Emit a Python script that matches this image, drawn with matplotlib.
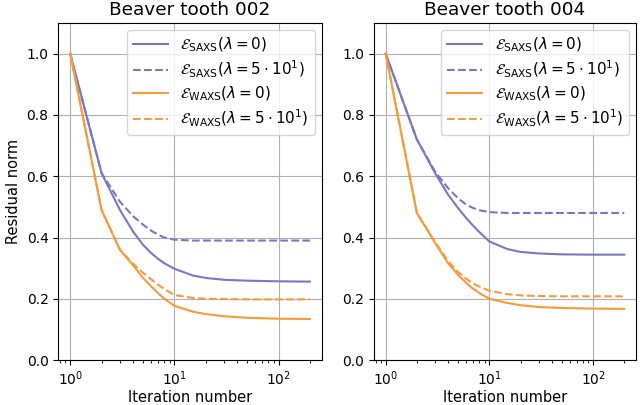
import matplotlib
matplotlib.use('Agg')
import matplotlib.pyplot as plt

iters = [1, 2, 3, 4, 5, 6, 7, 8, 10, 15, 20, 30, 50, 100, 200]

# Beaver tooth 002
saxs_002 = [1.0, 0.61, 0.49, 0.42, 0.376, 0.349, 0.33, 0.316, 0.298, 0.276, 0.268, 0.262, 0.259, 0.257, 0.256]
saxs_reg_002 = [1.0, 0.61, 0.517, 0.47, 0.442, 0.422, 0.409, 0.40, 0.393, 0.39, 0.39, 0.39, 0.39, 0.39, 0.39]
waxs_002 = [1.0, 0.49, 0.36, 0.31, 0.268, 0.24, 0.218, 0.2, 0.177, 0.158, 0.15, 0.143, 0.138, 0.135, 0.134]
waxs_reg_002 = [1.0, 0.49, 0.36, 0.315, 0.285, 0.263, 0.245, 0.232, 0.212, 0.203, 0.2, 0.199, 0.198, 0.198, 0.198]

# Beaver tooth 004
saxs_004 = [1.0, 0.72, 0.61, 0.54, 0.496, 0.463, 0.438, 0.418, 0.387, 0.362, 0.353, 0.348, 0.345, 0.344, 0.344]
saxs_reg_004 = [1.0, 0.72, 0.615, 0.561, 0.528, 0.507, 0.496, 0.489, 0.483, 0.48, 0.48, 0.48, 0.48, 0.48, 0.48]
waxs_004 = [1.0, 0.48, 0.382, 0.316, 0.278, 0.251, 0.232, 0.219, 0.2, 0.186, 0.179, 0.173, 0.17, 0.168, 0.167]
waxs_reg_004 = [1.0, 0.48, 0.385, 0.322, 0.287, 0.265, 0.25, 0.24, 0.226, 0.215, 0.211, 0.209, 0.208, 0.208, 0.208]

titles = ['Beaver tooth 002', 'Beaver tooth 004']
labels = [r'$\mathcal{E}_{\mathrm{SAXS}}(\lambda=0)$',
          r'$\mathcal{E}_{\mathrm{SAXS}}(\lambda=5\cdot10^1)$',
          r'$\mathcal{E}_{\mathrm{WAXS}}(\lambda=0)$',
          r'$\mathcal{E}_{\mathrm{WAXS}}(\lambda=5\cdot10^1)$']

purple = '#7777c6'
orange = '#f99a3a'

fig = plt.figure(figsize=(6.4, 4.05), dpi=100)
ax1 = fig.add_axes([0.091, 0.111, 0.412, 0.832])
ax2 = fig.add_axes([0.584, 0.111, 0.410, 0.832])

data = [(saxs_002, saxs_reg_002, waxs_002, waxs_reg_002),
        (saxs_004, saxs_reg_004, waxs_004, waxs_reg_004)]

for ax, title, (s, sr, w, wr) in zip([ax1, ax2], titles, data):
    ax.plot(iters, s, color=purple, lw=1.5, label=labels[0])
    ax.plot(iters, sr, color=purple, lw=1.5, ls='--', label=labels[1])
    ax.plot(iters, w, color=orange, lw=1.5, label=labels[2])
    ax.plot(iters, wr, color=orange, lw=1.5, ls='--', label=labels[3])
    ax.set_xscale('log')
    ax.set_ylim(0, 1.1)
    ax.set_yticks([0.0, 0.2, 0.4, 0.6, 0.8, 1.0])
    ax.grid(True, which='major')
    ax.set_title(title, fontsize=13.3)
    ax.set_xlabel('Iteration number', fontsize=10.5, labelpad=1)
    ax.tick_params(labelsize=10)
    ax.legend(loc='upper right', fontsize=11, labelspacing=0.3,
              handlelength=2.3, borderaxespad=0.45)

ax1.set_ylabel('Residual norm', fontsize=10.5)

plt.savefig('out.png', dpi=100)
